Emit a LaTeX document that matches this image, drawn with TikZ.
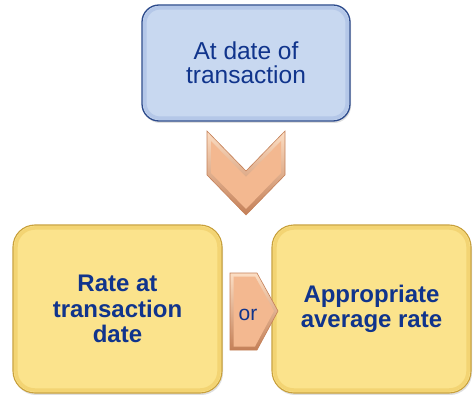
\documentclass[tikz,border=0pt]{standalone}
\usepackage{fontspec}
\setmainfont{Liberation Sans}
\usetikzlibrary{shadows}
\definecolor{txtblue}{RGB}{16,52,140}
\definecolor{bluefill}{RGB}{200,216,240}
\definecolor{bluebevel}{RGB}{180,199,232}
\definecolor{blueedge}{RGB}{45,75,140}
\definecolor{yelfill}{RGB}{251,227,140}
\definecolor{yelbevel}{RGB}{243,212,115}
\definecolor{yeledge}{RGB}{200,160,60}
\definecolor{orfill}{RGB}{243,184,144}
\definecolor{orlight}{RGB}{252,222,196}
\definecolor{ordark}{RGB}{196,128,88}
\begin{document}
\begin{tikzpicture}[x=1pt,y=-1pt,
  bluebox/.style={rectangle, rounded corners=17pt, fill=bluefill, draw=blueedge,
    line width=1.3pt, minimum width=208pt, minimum height=116pt, align=center,
    text=txtblue, font=\fontsize{24.5}{24}\selectfont,
    drop shadow={opacity=0.25, shadow xshift=1pt, shadow yshift=-2pt}},
  yelbox/.style={rectangle, rounded corners=22pt, fill=yelfill, draw=yeledge,
    line width=1.1pt, minimum height=168pt, align=center,
    text=txtblue, font=\bfseries\fontsize{24}{25.5}\selectfont,
    drop shadow={opacity=0.25, shadow xshift=1pt, shadow yshift=-2pt}},
  bevel/.style={line width=3.5pt, rounded corners=#1},
  orshape/.style={top color=orlight, bottom color=ordark, draw=ordark, line width=0.6pt},
  orface/.style={fill=orfill},
  orlabel/.style={text=txtblue, font=\fontsize{21}{21}\selectfont, inner sep=0pt}
]
\useasboundingbox (0,0) rectangle (473,395);

% step boxes
\node[bluebox] (when) at (246,63) {At date of\\transaction};
\draw[bevel=15pt, bluebevel] ([shift={(3.5,3.5)}]when.north west) rectangle ([shift={(-3.5,-3.5)}]when.south east);

\node[yelbox, minimum width=209pt] (spot) at (117.5,309) {Rate at\\transaction\\date};
\draw[bevel=19pt, yelbevel] ([shift={(3.5,3.5)}]spot.north west) rectangle ([shift={(-3.5,-3.5)}]spot.south east);

\node[yelbox, minimum width=199pt, font=\bfseries\fontsize{24}{25}\selectfont] (avg) at (371.5,309) {Appropriate\\average rate};
\draw[bevel=19pt, yelbevel] ([shift={(3.5,3.5)}]avg.north west) rectangle ([shift={(-3.5,-3.5)}]avg.south east);

% downward chevron between the top box and the two rate boxes
\path[orshape] (207,131) -- (246,171) -- (285,131) -- (285,175) -- (246,215) -- (207,175) -- cycle;
\path[orface] (211,141) -- (246,177) -- (281,141) -- (281,173) -- (246,209) -- (211,173) -- cycle;

% "or" arrow pointing from the left box to the right box
\path[orshape] (230,273) -- (257,273) -- (278,311) -- (257,350) -- (230,350) -- cycle;
\path[orface] (233.5,276.5) -- (255,276.5) -- (274,311) -- (255,346.5) -- (233.5,346.5) -- cycle;
\node[orlabel] (or) at (248,314.5) {or};
\end{tikzpicture}
\end{document}
